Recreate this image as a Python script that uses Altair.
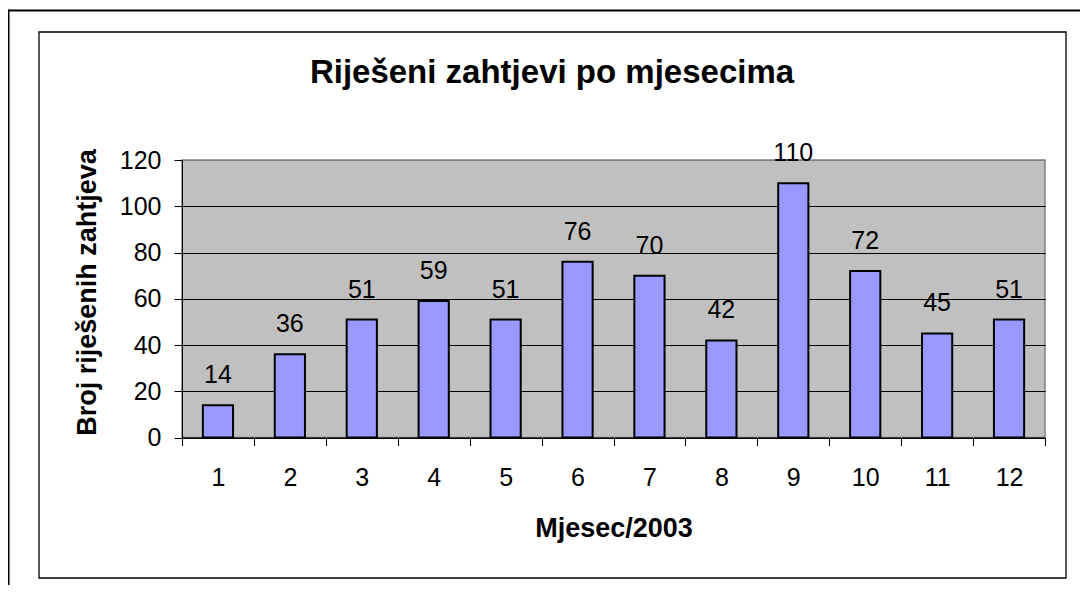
import altair as alt
import pandas as pd

# ---- data ----
months = ["1", "2", "3", "4", "5", "6", "7", "8", "9", "10", "11", "12"]
counts = [14, 36, 51, 59, 51, 76, 70, 42, 110, 72, 45, 51]
y_ticks = [0, 20, 40, 60, 80, 100, 120]

chart_title = "Riješeni zahtjevi po mjesecima"
x_title = "Mjesec/2003"
y_title = "Broj riješenih zahtjeva"

FONT = "Liberation Sans"
W, H = 863, 277.5

df = pd.DataFrame({"mjesec": months, "broj": counts})

x_enc = alt.X(
    "mjesec:N",
    sort=months,
    scale=alt.Scale(paddingInner=0, paddingOuter=0),
    axis=alt.Axis(
        title=x_title,
        labelAngle=0,
        tickBand="extent",
        tickSize=8,
        tickColor="black",
        tickWidth=1,
        domainColor="black",
        domainWidth=1,
        labelFont=FONT,
        labelFontSize=25,
        labelColor="black",
        labelPadding=20,
        titleFont=FONT,
        titleFontSize=27,
        titleFontWeight="bold",
        titleColor="black",
        titleBaseline="alphabetic",
        titleY=98.5,
    ),
)

y_enc = alt.Y(
    "broj:Q",
    scale=alt.Scale(domain=[0, 120], nice=False),
    axis=alt.Axis(
        values=y_ticks,
        grid=True,
        gridColor={"condition": {"test": "datum.value == 120", "value": "#808080"}, "value": "black"},
        gridWidth=1,
        gridOpacity=1,
        tickSize=8,
        tickColor="black",
        domainColor="black",
        domainWidth=1,
        labelFont=FONT,
        labelFontSize=25,
        labelColor="black",
        labelPadding=13,
        title=y_title,
        titleFont=FONT,
        titleFontSize=27,
        titleFontWeight="bold",
        titleColor="black",
        titleBaseline="alphabetic",
        titleX=-87,
        titleY=132,
        titleAngle=270,
    ),
)

frame_data = alt.Data(values=[{"t": chart_title}])

# outer frame: only its left and top edges fall inside the picture
outer_left = alt.Chart(frame_data).mark_rule(color="black", strokeWidth=2).encode(
    x=alt.value(-173.5), y=alt.value(-150.5), y2=alt.value(440)
)
outer_top = alt.Chart(frame_data).mark_rule(color="black", strokeWidth=2).encode(
    x=alt.value(-174.5), x2=alt.value(900), y=alt.value(-149.5)
)

inner_frame = alt.Chart(frame_data).mark_rect(
    fillOpacity=0, stroke="black", strokeWidth=1.3
).encode(
    x=alt.value(-143), x2=alt.value(884), y=alt.value(-128), y2=alt.value(418)
)

title_mark = alt.Chart(frame_data).mark_text(
    font=FONT, fontSize=33, fontWeight="bold", color="black",
    align="center", baseline="alphabetic",
).encode(x=alt.value(370), y=alt.value(-76.7), text="t:N")

bars = alt.Chart(df).mark_bar(
    width=alt.RelativeBandSize(0.42),
    fill="#9999FF",
    stroke="black",
    strokeWidth=2,
).encode(x=x_enc, y=y_enc)

labels = alt.Chart(df).mark_text(
    dy=-22, baseline="alphabetic", align="center", font=FONT, fontSize=25, color="black"
).encode(x=x_enc, y=y_enc, text="broj:Q")

chart = alt.layer(outer_left, outer_top, inner_frame, title_mark, bars, labels).properties(
    width=W,
    height=H,
    background="white",
    autosize=alt.AutoSizeParams(type="none"),
    padding={"left": 174, "top": 152, "right": 35, "bottom": 147.5},
).configure_view(
    fill="#C0C0C0", stroke="#808080", strokeWidth=1.5
)

chart.save("out.html", embed_options={"renderer": "svg", "actions": False})
